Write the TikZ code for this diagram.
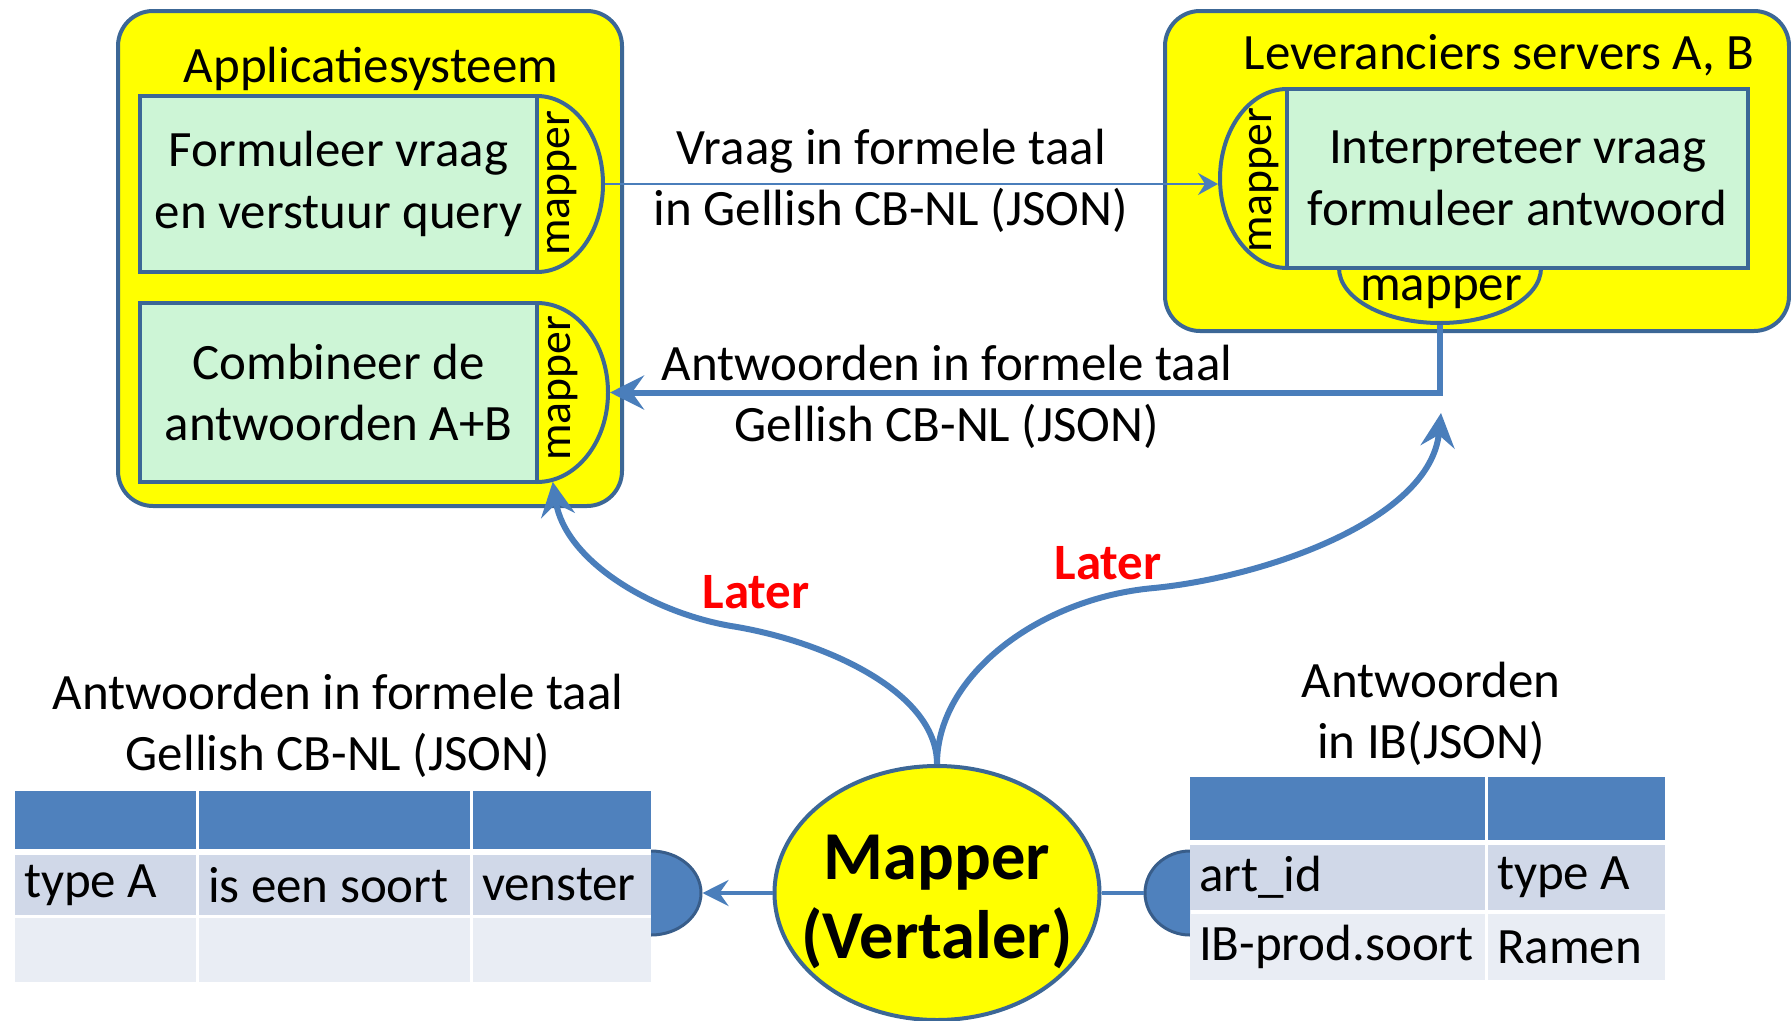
\documentclass[tikz,border=0pt]{standalone}
\usepackage{fontspec}
\setmainfont{Carlito}
\usetikzlibrary{shapes,arrows.meta}
\definecolor{sysyellow}{RGB}{255,255,0}
\definecolor{edgeblue}{RGB}{60,103,150}
\definecolor{lineblue}{RGB}{74,126,187}
\definecolor{taskgreen}{RGB}{205,245,214}
\definecolor{headblue}{RGB}{79,129,189}
\definecolor{rowblue}{RGB}{208,216,232}
\definecolor{rowpale}{RGB}{233,237,244}
\definecolor{plugedge}{RGB}{56,93,138}
\definecolor{laterred}{RGB}{255,0,0}
\newcommand{\diagtext}{\fontsize{14.5}{17.5}\selectfont}
\tikzstyle{system} = [rectangle, draw=edgeblue, fill=sysyellow, line width=0.4mm, rounded corners=3.5mm]
\tikzstyle{task} = [rectangle, draw=edgeblue, fill=taskgreen, line width=0.4mm, align=center]
\tikzstyle{halfmap} = [ellipse, draw=edgeblue, fill=sysyellow, line width=0.4mm, inner sep=0pt]
\tikzstyle{maptext} = [font=\fontsize{13}{15}\selectfont, inner sep=0pt]
\tikzstyle{plug} = [ellipse, draw=plugedge, fill=headblue, line width=0.3mm, inner sep=0pt]
\tikzstyle{cell} = [rectangle, inner sep=0pt]
\tikzstyle{celltext} = [right, inner xsep=0.9mm]
\tikzstyle{line} = [draw=lineblue, line width=0.6mm, -{Stealth[length=3.4mm, width=3.4mm, inset=1.2mm]}]
\tikzstyle{later} = [text=laterred, font=\diagtext\bfseries]

\begin{document}
\begin{tikzpicture}[x=0.1mm, y=-0.1mm, font=\diagtext]
	\useasboundingbox (0,0) rectangle (1791,1021);
	% systems
	\node [system, minimum width=50.4mm, minimum height=49.5mm] (appsys) at (370,258.5) {};
	\node [system, minimum width=62.4mm, minimum height=32mm] (levsys) at (1477,171) {};
	\node (apptitle) at (371,69) {Applicatiesysteem};
	\node (levtitle) at (1499,55) {Leveranciers servers A, B};
	% mappers, half hidden behind the tasks
	\node [halfmap, minimum width=13.2mm, minimum height=17.6mm] (map1) at (537,184) {};
	\node [halfmap, minimum width=14.2mm, minimum height=17.9mm] (map2) at (537,392.5) {};
	\node [halfmap, minimum width=13.4mm, minimum height=17.9mm] (map3) at (1287,178.5) {};
	\node [halfmap, minimum width=20.2mm, minimum height=11mm] (map4) at (1440,268) {};
	\node [task, minimum width=39.7mm, minimum height=17.6mm] (formuleer) at (338.5,184) {Formuleer vraag\\en verstuur query};
	\node [task, minimum width=39.7mm, minimum height=17.9mm] (combineer) at (338.5,392.5) {Combineer de\\antwoorden A+B};
	\node [task, minimum width=46.1mm, minimum height=17.9mm] (interpreteer) at (1517.5,178.5) {Interpreteer vraag\\formuleer antwoord};
	\node [maptext, rotate=90] (map1text) at (562,183) {mapper};
	\node [maptext, rotate=90] (map2text) at (563,388) {mapper};
	\node [maptext, rotate=90] (map3text) at (1264,180) {mapper};
	\node [inner sep=0pt] (map4text) at (1441,292) {mapper};
	% query and answers
	\draw [draw=lineblue, line width=0.25mm, -{Stealth[length=2mm, width=2.2mm, inset=0.7mm]}] (map1.east) -- (map1.east -| map3.west);
	\path [line] (map4.south) |- (map2.east);
	\node [align=center] (vraaglabel) at (891,181) {Vraag in formele taal\\in Gellish CB-NL (JSON)};
	\node [align=center] (antwlabel) at (947,397) {Antwoorden in formele taal\\Gellish CB-NL (JSON)};
	% the mapper
	\node [ellipse, draw=edgeblue, fill=sysyellow, line width=0.4mm, minimum width=32.5mm, minimum height=25.4mm] (mapper) at (937,893) {};
	\node [align=center, font=\fontsize{19.5}{22.5}\selectfont\bfseries] (mappertext) at (937,902) {Mapper\\(Vertaler)};
	\coordinate (levin) at (1441,413);
	\path [line] (mapper.north) .. controls (937,690) and (820,640) .. (731,626) .. controls (650,612) and (565,560) .. (map2.-80);
	\path [line] (mapper.north) .. controls (937,675) and (1040,598) .. (1154,588) .. controls (1265,577) and (1430,520) .. (levin);
	\node [later] (later1) at (756,592) {Later};
	\node [later] (later2) at (1108,563) {Later};
	% tables
	\node [align=center] (ltitle) at (338,726) {Antwoorden in formele taal\\Gellish CB-NL (JSON)};
	\node [align=center] (rtitle) at (1431,714) {Antwoorden\\in IB(JSON)};
	\begin{scope}
		\clip (651,840) rectangle (720,950);
		\node [plug, minimum width=10mm, minimum height=8.4mm] (lplug) at (651,893) {};
	\end{scope}
	\begin{scope}
		\clip (1130,840) rectangle (1190,950);
		\node [plug, minimum width=9mm, minimum height=8.4mm] (rplug) at (1190,893) {};
	\end{scope}
	\node [cell, fill=headblue, minimum width=18.1mm, minimum height=5.8mm] (lh1) at (105.5,820) {};
	\node [cell, fill=headblue, minimum width=27.1mm, minimum height=5.8mm] (lh2) at (334.5,820) {};
	\node [cell, fill=headblue, minimum width=17.8mm, minimum height=5.8mm] (lh3) at (562,820) {};
	\node [cell, fill=rowblue, minimum width=18.1mm, minimum height=6mm] (la1) at (105.5,885) {};
	\node [cell, fill=rowblue, minimum width=27.1mm, minimum height=6mm] (la2) at (334.5,885) {};
	\node [cell, fill=rowblue, minimum width=17.8mm, minimum height=6mm] (la3) at (562,885) {};
	\node [cell, fill=rowpale, minimum width=18.1mm, minimum height=6.4mm] (lb1) at (105.5,950) {};
	\node [cell, fill=rowpale, minimum width=27.1mm, minimum height=6.4mm] (lb2) at (334.5,950) {};
	\node [cell, fill=rowpale, minimum width=17.8mm, minimum height=6.4mm] (lb3) at (562,950) {};
	\node [cell, fill=headblue, minimum width=29.5mm, minimum height=6.3mm] (rh1) at (1337.5,808.5) {};
	\node [cell, fill=headblue, minimum width=17.7mm, minimum height=6.3mm] (rh2) at (1576.5,808.5) {};
	\node [cell, fill=rowblue, minimum width=29.5mm, minimum height=6.5mm] (ra1) at (1337.5,877.5) {};
	\node [cell, fill=rowblue, minimum width=17.7mm, minimum height=6.5mm] (ra2) at (1576.5,877.5) {};
	\node [cell, fill=rowpale, minimum width=29.5mm, minimum height=6.6mm] (rb1) at (1337.5,947) {};
	\node [cell, fill=rowpale, minimum width=17.7mm, minimum height=6.6mm] (rb2) at (1576.5,947) {};
	\node [celltext] (la1text) at (la1.west) {type A};
	\node [celltext] (la2text) at (la2.west) {is een soort};
	\node [celltext] (la3text) at (la3.west) {venster};
	\node [celltext] (ra1text) at (ra1.west) {art\_id};
	\node [celltext] (ra2text) at (ra2.west) {type A};
	\node [celltext] (rb1text) at (rb1.west) {IB-prod.soort};
	\node [celltext] (rb2text) at (rb2.west) {Ramen};
	\draw [draw=lineblue, line width=0.4mm, -{Stealth[length=2.6mm, width=2.6mm, inset=0.9mm]}] (mapper.west) -- (lplug.east);
	\draw [draw=lineblue, line width=0.4mm] (mapper.east) -- (rplug.west);
\end{tikzpicture}
\end{document}
